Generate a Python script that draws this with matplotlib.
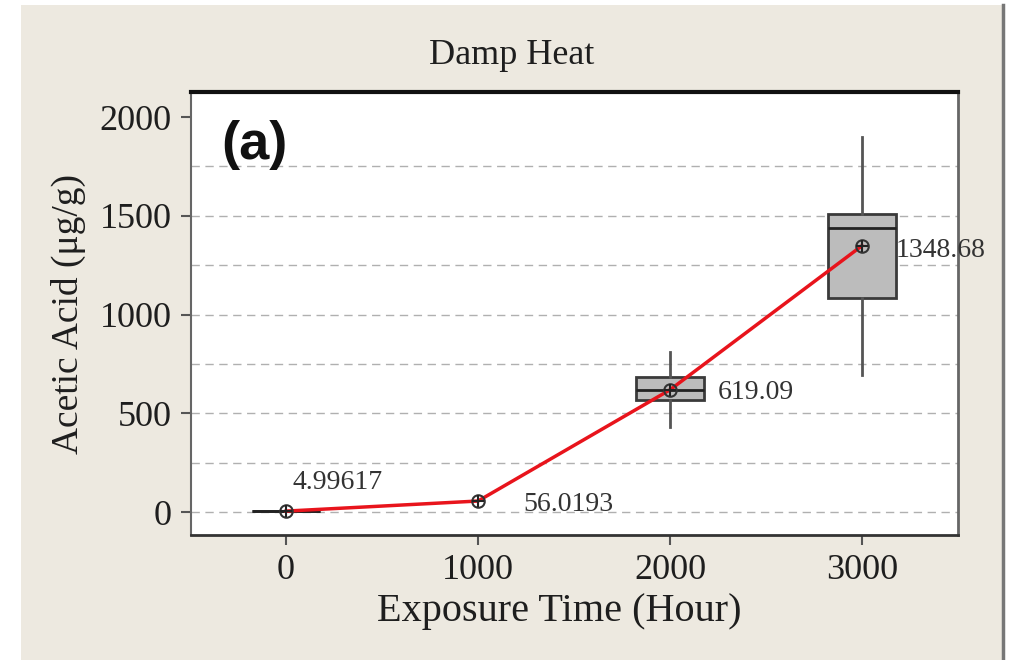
import numpy as np
import matplotlib
matplotlib.use("Agg")
import matplotlib.pyplot as plt
from matplotlib.patches import Rectangle

# ---------------- data ----------------
hours = [0, 1000, 2000, 3000]
means = [4.99617, 56.0193, 619.09, 1348.68]
mean_labels = ["4.99617", "56.0193", "619.09", "1348.68"]

# boxes that are visible in the chart (the one at 1000 h is hidden under the line)
box_hours = [0, 2000, 3000]
q1 = [4.0, 567.0, 1084.0]
medians = [5.0, 618.0, 1438.0]
q3 = [6.0, 683.0, 1509.0]
whislo = [3.0, 430.0, 694.0]
whishi = [7.0, 810.0, 1899.0]

label_offsets = [(52, 29), (45, -3), (48, -3), (34, -5)]
grid_levels = np.arange(0, 1751, 250)

serif = "Liberation Serif"
txt_col = "#1e1e1e"

fig = plt.figure(figsize=(10.1, 6.6), dpi=100)
fig.patch.set_facecolor("white")
# beige panel background like the screenshot
fig.patches.append(Rectangle((21 / 1010, 0), (1003 - 21) / 1010, 655 / 660,
                             transform=fig.transFigure, facecolor="#ede9e0",
                             edgecolor="none", zorder=-10))
fig.lines.append(plt.Line2D([1003 / 1010, 1003 / 1010], [0, 655 / 660],
                            transform=fig.transFigure, color="#777777", lw=2.5))

ax = fig.add_axes([191 / 1010, 1 - 535 / 660, (958 - 191) / 1010, (535 - 92) / 660])
ax.set_facecolor("white")

for g in grid_levels:
    ax.axhline(g, color="#b0b0b0", lw=1.0, ls=(0, (6, 4)), zorder=0)

stats = []
for i in range(len(box_hours)):
    stats.append(dict(med=medians[i], q1=q1[i], q3=q3[i],
                      whislo=whislo[i], whishi=whishi[i], fliers=[]))
ax.bxp(stats, positions=box_hours, widths=350, patch_artist=True,
       showcaps=False, showfliers=False, showmeans=False,
       boxprops=dict(facecolor="#bcbcbc", edgecolor="#3a3a3a", linewidth=2),
       medianprops=dict(color="#222222", linewidth=2),
       whiskerprops=dict(color="#555555", linewidth=2),
       manage_ticks=False, zorder=2)

ax.plot(hours, means, color="#e8141c", lw=2.5, zorder=3)
ax.plot(hours, means, ls="none", marker="o", ms=9, mfc="none",
        mec="#333333", mew=1.5, zorder=4)
ax.plot(hours, means, ls="none", marker="+", ms=8, mec="#222222",
        mew=1.5, zorder=4)

for i in range(len(hours)):
    ax.annotate(mean_labels[i], (hours[i], means[i]),
                xytext=label_offsets[i], textcoords="offset pixels",
                ha="left" if i > 0 else "center", va="center",
                fontsize=20, family=serif, color="#333333",
                annotation_clip=False)

ax.text(0.04, 0.88, "(a)", transform=ax.transAxes, fontsize=39,
        fontweight="bold", family="Liberation Sans", color="#111111",
        va="center", ha="left")

ax.set_xlim(-495, 3500)
ax.set_ylim(-116, 2127)
ax.set_xticks([0, 1000, 2000, 3000])
ax.set_yticks([0, 500, 1000, 1500, 2000])
ax.tick_params(axis="both", direction="out", length=7, width=1.5,
               color="#555555", labelsize=26, labelcolor=txt_col, pad=7)
for lab in ax.get_xticklabels() + ax.get_yticklabels():
    lab.set_family(serif)

ax.spines["top"].set_linewidth(3)
ax.spines["top"].set_color("#111111")
ax.spines["bottom"].set_linewidth(2)
ax.spines["bottom"].set_color("#333333")
ax.spines["left"].set_linewidth(1.5)
ax.spines["left"].set_color("#666666")
ax.spines["right"].set_linewidth(2)
ax.spines["right"].set_color("#666666")

fig.text(512 / 1010, 1 - 55 / 660, "Damp Heat", ha="center", va="center",
         fontsize=26, family=serif, color=txt_col)
fig.text(559 / 1010, 1 - 612 / 660, "Exposure Time (Hour)", ha="center",
         va="center", fontsize=29, family=serif, color=txt_col)
fig.text(68 / 1010, 1 - 314 / 660, "Acetic Acid (\u03bcg/g)", ha="center",
         va="center", rotation=90, fontsize=27, family=serif, color=txt_col)

fig.savefig("out.png", dpi=100, facecolor=fig.get_facecolor())
